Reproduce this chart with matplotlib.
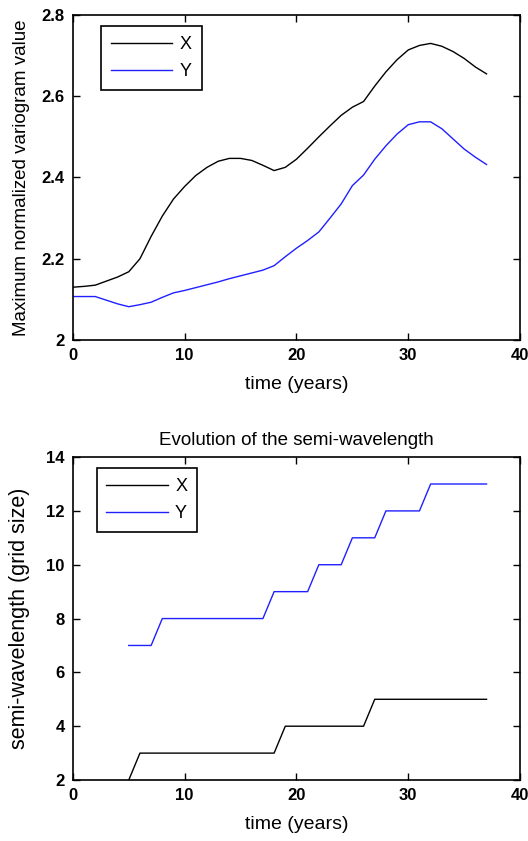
import matplotlib
matplotlib.use("Agg")
import matplotlib.pyplot as plt

plt.rcParams['font.family'] = ['Liberation Sans', 'DejaVu Sans']

# top panel: maximum normalized variogram value
years = list(range(0, 38))
vario_x = [2.130, 2.132, 2.135, 2.145, 2.155, 2.168, 2.200, 2.255, 2.305, 2.347,
           2.378, 2.405, 2.425, 2.440, 2.447, 2.447, 2.442, 2.430, 2.417, 2.425,
           2.445, 2.472, 2.500, 2.527, 2.553, 2.573, 2.587, 2.625, 2.660, 2.690,
           2.714, 2.725, 2.730, 2.723, 2.710, 2.693, 2.672, 2.655]
vario_y = [2.107, 2.107, 2.107, 2.098, 2.089, 2.082, 2.087, 2.093, 2.105, 2.116,
           2.122, 2.129, 2.136, 2.143, 2.151, 2.158, 2.165, 2.172, 2.183, 2.205,
           2.226, 2.245, 2.266, 2.300, 2.335, 2.380, 2.406, 2.445, 2.478, 2.507,
           2.530, 2.537, 2.537, 2.520, 2.495, 2.470, 2.450, 2.432]

# bottom panel: semi-wavelength (grid size)
years_sw = list(range(5, 38))
semi_x = [2, 3, 3, 3, 3, 3, 3, 3, 3, 3, 3, 3, 3, 3, 4, 4, 4, 4, 4, 4, 4, 4,
          5, 5, 5, 5, 5, 5, 5, 5, 5, 5, 5]
semi_y = [7, 7, 7, 8, 8, 8, 8, 8, 8, 8, 8, 8, 8, 9, 9, 9, 9, 10, 10, 10, 11, 11,
          11, 12, 12, 12, 12, 13, 13, 13, 13, 13, 13]

blue = '#2020ff'

fig = plt.figure(figsize=(5.28, 8.41), dpi=100)
ax1 = fig.add_axes([0.138, 0.5957, 0.847, 0.3865])
ax2 = fig.add_axes([0.138, 0.0725, 0.847, 0.384])

ax1.plot(years, vario_x, color='black', lw=1.0, label='X')
ax1.plot(years, vario_y, color=blue, lw=1.0, label='Y')
ax1.set_xlim(0, 40)
ax1.set_ylim(2, 2.8)
ax1.set_yticks([2, 2.2, 2.4, 2.6, 2.8])
ax1.set_yticklabels(['2', '2.2', '2.4', '2.6', '2.8'])
ax1.set_ylabel('Maximum normalized variogram value', fontsize=13.5)

ax2.plot(years_sw, semi_x, color='black', lw=1.0, label='X')
ax2.plot(years_sw, semi_y, color=blue, lw=1.0, label='Y')
ax2.set_xlim(0, 40)
ax2.set_ylim(2, 14)
ax2.set_yticks(range(2, 15, 2))
ax2.set_ylabel('semi-wavelength (grid size)', fontsize=15.5)
ax2.set_title('Evolution of the semi-wavelength', fontsize=13.5, pad=9)

legend_pos = {ax1: (0.063, 0.966), ax2: (0.053, 0.966)}
for ax in (ax1, ax2):
    ax.set_xticks(range(0, 41, 10))
    ax.set_xlabel('time (years)', fontsize=14, labelpad=9)
    ax.yaxis.set_label_coords(-0.096, 0.5)
    ax.tick_params(direction='in', top=True, right=True, length=5, width=1,
                   labelsize=12, pad=6)
    for lab in ax.get_xticklabels() + ax.get_yticklabels():
        lab.set_fontweight('bold')
    for sp in ax.spines.values():
        sp.set_linewidth(1.2)
    leg = ax.legend(loc='upper left', bbox_to_anchor=legend_pos[ax], fontsize=13,
                    fancybox=False, edgecolor='black', framealpha=1,
                    handlelength=3.4, handletextpad=0.4, borderpad=0.55,
                    labelspacing=0.55, borderaxespad=0)
    leg.get_frame().set_linewidth(1.2)

fig.savefig('out.png', dpi=100)
